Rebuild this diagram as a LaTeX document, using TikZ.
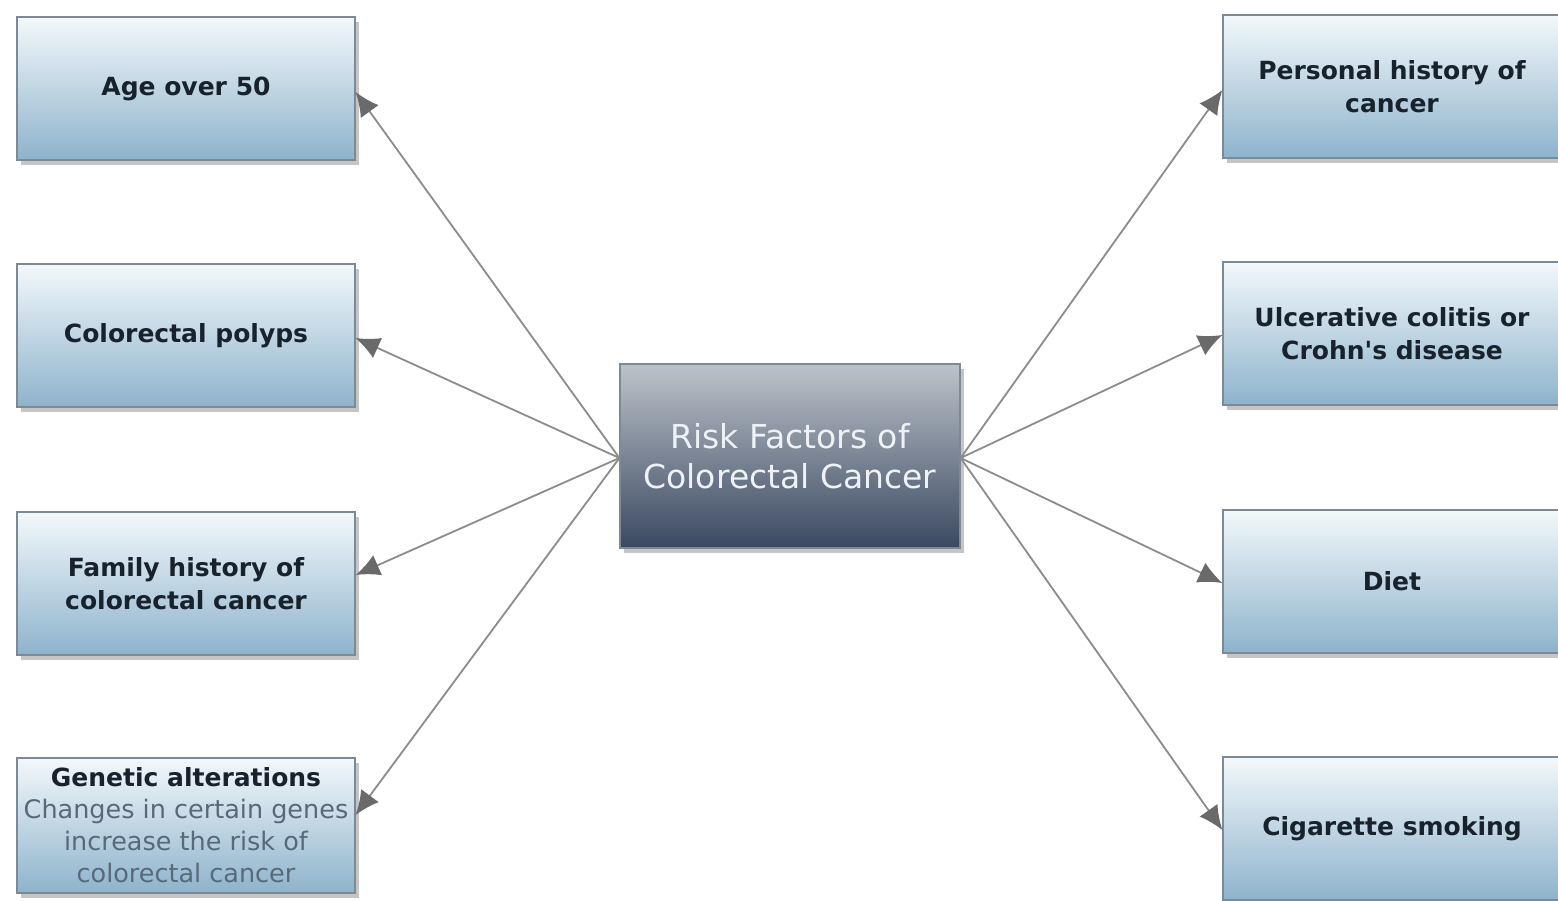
\documentclass[tikz,border=0pt]{standalone}
\usepackage{fontspec}
\setmainfont{DejaVu Sans}[Ligatures=TeXOff]
\usetikzlibrary{arrows.meta,shadows,calc}
\definecolor{boxtop}{HTML}{F3F8FB}
\definecolor{boxmid}{HTML}{CADCE8}
\definecolor{boxbot}{HTML}{8EB3CC}
\definecolor{boxline}{HTML}{7C8A96}
\definecolor{boxtext}{HTML}{18222C}
\definecolor{subtext}{HTML}{586A7A}
\definecolor{ctop}{HTML}{BCC3CA}
\definecolor{cmid}{HTML}{7C8A9C}
\definecolor{cbot}{HTML}{3A4860}
\definecolor{ctext}{HTML}{EEF2F6}
\definecolor{arrline}{HTML}{8C8C8C}
\definecolor{arrhead}{HTML}{6A6A6A}
\newcommand{\subline}[1]{{\mdseries\fontsize{25.5}{32}\selectfont\color{subtext}#1}}
\begin{document}
\begin{tikzpicture}[x=1pt,y=-1pt,
  factor/.style={draw=boxline, line width=1.2pt, top color=boxtop, middle color=boxmid, bottom color=boxbot,
    minimum width=338pt, minimum height=143pt, inner sep=0pt, align=center,
    font=\fontsize{25}{33}\selectfont\bfseries, text=boxtext,
    drop shadow={opacity=0.45, shadow xshift=4pt, shadow yshift=-5pt}},
  hub/.style={draw=boxline, line width=1.2pt, top color=ctop, middle color=cmid, bottom color=cbot,
    minimum width=340pt, minimum height=184pt, inner sep=0pt, align=center,
    font=\fontsize{33}{40}\selectfont, text=ctext,
    drop shadow={opacity=0.45, shadow xshift=4pt, shadow yshift=-5pt}},
  link/.style={draw=arrline, line width=1.8pt,
    -{Latex[length=24pt,width=22pt,fill=arrhead,color=arrhead]}}
]
\useasboundingbox (0,0) rectangle (1558,900);
\clip (0,0) rectangle (1558,900);
\fill[white] (0,0) rectangle (1558,900);

\node[hub] (c) at (790,456) {Risk Factors of\\Colorectal Cancer};

\node[factor] (age) at (186,88.5) {Age over 50};
\node[factor] (pol) at (186,335.5) {Colorectal polyps};
\node[factor] (fam) at (186,583.5) {Family history of\\colorectal cancer};
\node[factor, minimum height=135pt, font=\fontsize{25}{32}\selectfont] (gen) at (186,825.5)
  {\textbf{Genetic alterations}\\
   \subline{Changes in certain genes}\\
   \subline{increase the risk of}\\
   \subline{colorectal cancer}};

\node[factor] (per) at (1392,86.5) {Personal history of\\cancer};
\node[factor] (ulc) at (1392,333.5) {Ulcerative colitis or\\Crohn's disease};
\node[factor] (diet) at (1392,581.5) {Diet};
\node[factor] (cig) at (1392,828.5) {Cigarette smoking};

\draw[link] ([yshift=-2pt]c.west) -- ([yshift=-3.5pt]age.east);
\draw[link] ([yshift=-2pt]c.west) -- ([yshift=-2.5pt]pol.east);
\draw[link] ([yshift=-2pt]c.west) -- ([yshift=8.5pt]fam.east);
\draw[link] ([yshift=-2pt]c.west) -- ([yshift=10.5pt]gen.east);

\draw[link] ([yshift=-2pt]c.east) -- ([yshift=-3.5pt]per.west);
\draw[link] ([yshift=-2pt]c.east) -- ([yshift=-1.5pt]ulc.west);
\draw[link] ([yshift=-2pt]c.east) -- ([yshift=-1.5pt]diet.west);
\draw[link] ([yshift=-2pt]c.east) -- ([yshift=-1.5pt]cig.west);
\end{tikzpicture}
\end{document}
